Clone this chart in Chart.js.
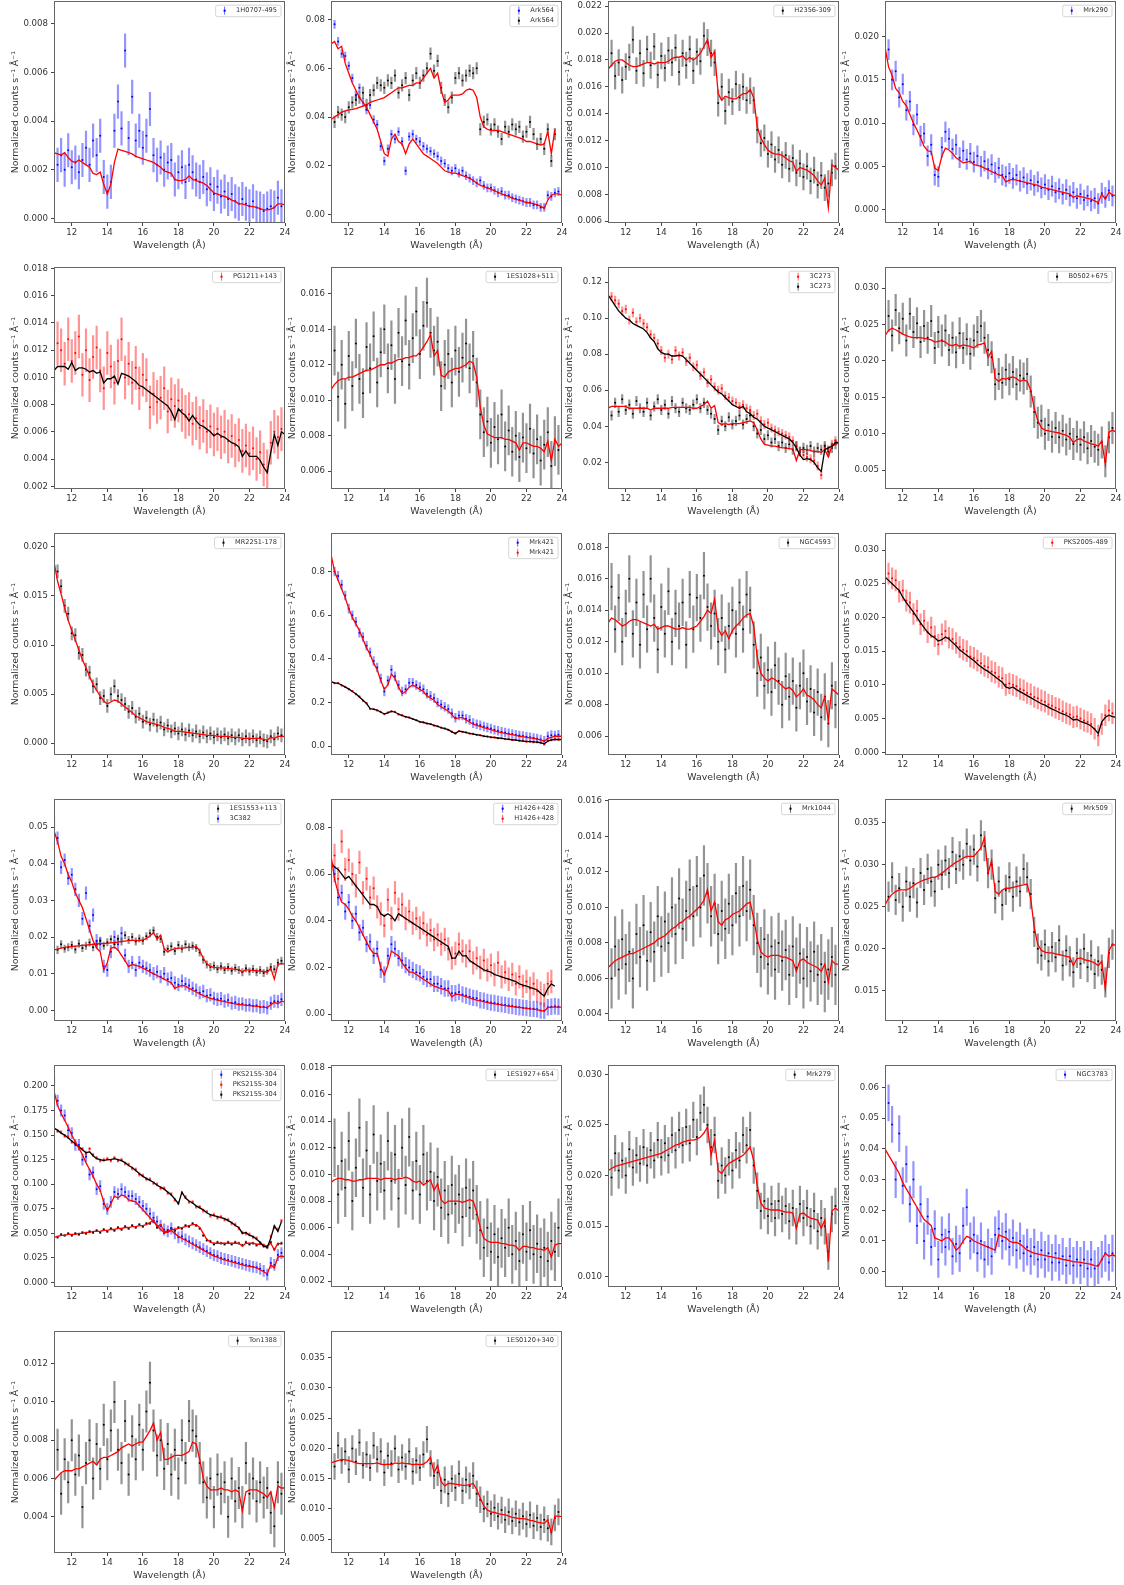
<!DOCTYPE html>
<html>
<head>
<meta charset="utf-8">
<script src="https://cdn.jsdelivr.net/npm/chart.js@4.4.1/dist/chart.umd.min.js"></script>
<style>
  html, body { margin: 0; padding: 0; background: #fff; overflow: hidden; }
  #wrap { position: relative; width: 1124px; height: 1585px; overflow: hidden; }
  #wrap canvas { position: absolute; }
</style>
</head>
<body>
<div id="wrap"></div>
<script>
// wavelength grid (Angstrom)
const wave = [11,11.2,11.4,11.6,11.8,12,12.2,12.4,12.6,12.8,13,13.2,13.4,13.6,13.8,14,14.2,14.4,14.6,14.8,15,15.2,15.4,15.6,15.8,16,16.2,16.4,16.6,16.8,17,17.2,17.4,17.6,17.8,18,18.2,18.4,18.6,18.8,19,19.2,19.4,19.6,19.8,20,20.2,20.4,20.6,20.8,21,21.2,21.4,21.6,21.8,22,22.2,22.4,22.6,22.8,23,23.2,23.4,23.6,23.8,24];
const xTicks = [12, 14, 16, 18, 20, 22, 24];

// 1H0707-495
const d_1H0707 = [.0037,.0022,.0026,.0020,.0028,.0021,.0023,.0019,.0024,.0029,
  .0022,.0032,.0026,.0034,.0017,.0011,.0015,.0036,.0048,.0037,
  .0069,.0033,.0050,.0032,.0036,.0029,.0034,.0045,.0026,.0022,
  .0025,.0020,.0023,.0024,.0016,.0019,.0021,.0015,.0022,.0019,
  .0016,.0015,.0017,.0012,.0014,.0010,.0013,.0009,.0011,.0008,
  .0010,.0007,.0006,.0008,.0006,.0005,.0007,.00045,.0004,.0003,
  .0004,.0005,.00045,.00085,.0005,null];
const m_1H0707 = [.0027,.00265,.0026,.0027,.0025,.00235,.0023,.0024,.0023,.0022,
  .0021,.00185,.0018,.0019,.0014,.0010,.0014,.0023,.00285,.0028,
  .00275,.0027,.00265,.00255,.0025,.00245,.0024,.00235,.0023,.0022,
  .0021,.00195,.0019,.00185,.0016,.00155,.00155,.0016,.00175,.0016,
  .00155,.0015,.00145,.00135,.0012,.00105,.0010,.00095,.0009,.00085,
  .00075,.0007,.0006,.0006,.00055,.0005,.00048,.00045,.0004,.00035,
  .00035,.00038,.00045,.0006,.0006,.00055];

// Ark564 (two observations)
const d_Ark564a = [.074,.078,.071,.066,.065,.061,.056,.049,.052,.046,
  .043,.045,.039,.037,.028,.022,.027,.033,.031,.034,
  .030,.018,.032,.033,.031,.030,.028,.027,.026,.025,
  .024,.022,.021,.019,.018,.019,.017,.018,.016,.015,
  .014,.013,.014,.012,.011,.011,.010,.009,.0095,.008,
  .008,.007,.0065,.006,.0055,.005,.005,.004,.004,.003,
  .003,.008,.0075,.009,.0095,.009];
const m_Ark564a = [.070,.071,.068,.069,.062,.058,.054,.051,.048,.046,
  .044,.041,.038,.035,.030,.025,.024,.031,.033,.030,
  .029,.025,.029,.031,.029,.027,.025,.024,.023,.022,
  .021,.0195,.018,.0175,.017,.017,.0165,.016,.0155,.015,
  .014,.013,.012,.0115,.011,.0105,.0098,.0092,.0085,.008,
  .0075,.0068,.0063,.006,.0055,.005,.0048,.0045,.004,.0035,
  .0025,.006,.008,.0085,.0085,.008];
const d_Ark564b = [.040,.038,.042,.041,.040,.044,.046,.047,.048,.050,
  .045,.049,.051,.054,.053,.052,.055,.054,.057,.050,
  .053,.056,.049,.055,.058,.054,.057,.060,.066,.059,
  .063,.052,.047,.044,.048,.056,.058,.055,.057,.059,
  .058,.060,.035,.038,.039,.035,.037,.034,.031,.036,
  .034,.037,.035,.036,.032,.034,.038,.033,.029,.031,
  .027,.035,.022,.033,null,null];
const m_Ark564b = [.039,.040,.041,.042,.0425,.043,.0432,.0435,.044,.0445,
  .045,.046,.0465,.047,.0475,.048,.049,.050,.051,.052,
  .052,.0525,.053,.053,.054,.054,.056,.058,.060,.056,
  .058,.051,.046,.047,.049,.049,.049,.0495,.051,.0515,
  .051,.048,.040,.036,.035,.0345,.0345,.0345,.034,.0335,
  .033,.0325,.032,.0315,.031,.030,.030,.0295,.029,.0285,
  .029,.034,.025,.035,null,null];

// H2356-309
const d_H2356 = [.0170,.0185,.0168,.0178,.0165,.0175,.0182,.0195,.0172,.0185,
  .0170,.0188,.0176,.0190,.0169,.0183,.0174,.0187,.0178,.0189,
  .0171,.0185,.0176,.0188,.0172,.0186,.0179,.0198,.0193,.0185,
  .0178,.0148,.0160,.0142,.0156,.0149,.0162,.0152,.0160,.0150,
  .0157,.0150,.0128,.0118,.0122,.0110,.0117,.0106,.0113,.0102,
  .0109,.0099,.0107,.0096,.0103,.0093,.0101,.0090,.0098,.0087,
  .0094,.0085,.0088,.0096,.0101,null];
const m_H2356 = [.0173,.0176,.0179,.0180,.0180,.0178,.0176,.0175,.0175,.0176,
  .0177,.0178,.0178,.0177,.0178,.0178,.0178,.0179,.0181,.0182,
  .0182,.0183,.0180,.0182,.0180,.0182,.0185,.0190,.0195,.0182,
  .0186,.0155,.0150,.0153,.0152,.0151,.0151,.0153,.0155,.0155,
  .0158,.0152,.0130,.0122,.0117,.0113,.0111,.0110,.0110,.0109,
  .0107,.0105,.0104,.0097,.0100,.0099,.0098,.0096,.0094,.0090,
  .0087,.0092,.0070,.0102,.0100,.0098];

// Mrk290
const d_Mrk290 = [.0205,.0185,.0150,.0160,.0130,.0145,.0115,.0125,.0098,.0110,
  .0085,.0088,.0062,.0075,.0040,.0038,.0072,.0090,.0082,.0070,
  .0075,.0060,.0068,.0058,.0065,.0055,.0062,.0050,.0056,.0047,
  .0052,.0043,.0048,.0040,.0038,.0042,.0036,.0040,.0033,.0037,
  .0030,.0034,.0028,.0032,.0025,.0029,.0023,.0027,.0020,.0024,
  .0018,.0023,.0016,.0020,.0013,.0018,.0011,.0016,.0010,.0013,
  .0007,.0019,.0014,.0022,.0016,.0019];
const m_Mrk290 = [.0188,.0165,.0155,.0140,.0135,.0125,.0120,.0110,.0100,.0092,
  .0083,.0073,.0068,.0067,.0048,.0045,.0062,.0071,.0069,.0065,
  .0060,.0057,.0054,.0055,.0056,.0052,.0051,.0050,.0048,.0046,
  .0044,.0042,.0040,.0039,.0032,.0034,.0035,.0034,.0033,.0032,
  .0031,.0030,.0029,.0028,.0026,.0025,.0024,.0023,.0022,.0021,
  .0020,.0019,.0018,.0014,.0016,.0015,.0014,.0013,.0012,.0010,
  .0008,.0018,.0012,.0020,.0017,.0016];

// PG1211+143
const d_PG1211 = [.0105,.0125,.0120,.0110,.0128,.0112,.0118,.0130,.0102,.0120,
  .0098,.0115,.0122,.0105,.0092,.0118,.0108,.0096,.0112,.0128,
  .0100,.0110,.0096,.0107,.0092,.0102,.0098,.0078,.0088,.0082,
  .0085,.0092,.0075,.0084,.0079,.0083,.0076,.0071,.0073,.0066,
  .0070,.0063,.0068,.0060,.0064,.0058,.0062,.0056,.0060,.0053,
  .0057,.0050,.0054,.0046,.0050,.0044,.0048,.0040,.0045,.0036,
  .0031,.0052,.0060,.0056,.0062,.0059];
const m_PG1211 = [.0105,.0108,.0108,.0108,.0106,.0111,.0105,.0107,.0107,.0106,
  .0104,.0105,.0103,.0104,.0096,.0099,.0099,.0101,.0095,.0103,
  .0102,.0101,.0099,.0097,.0094,.0093,.0091,.0089,.0087,.0085,
  .0083,.0081,.0079,.0075,.0069,.0077,.0074,.0072,.0068,.0072,
  .0068,.0065,.0064,.0062,.0060,.0057,.0059,.0057,.0056,.0054,
  .0052,.0051,.0049,.0042,.0046,.0042,.0042,.0042,.0039,.0034,
  .0030,.0045,.0058,.0050,.0060,.0058];

// 1ES1028+511
const d_1ES1028 = [.0110,.0128,.0102,.0120,.0098,.0125,.0108,.0132,.0112,.0104,
  .0130,.0118,.0136,.0110,.0127,.0140,.0118,.0131,.0112,.0138,
  .0122,.0145,.0120,.0135,.0150,.0126,.0142,.0155,.0138,.0128,
  .0133,.0108,.0120,.0126,.0110,.0128,.0116,.0124,.0132,.0118,
  .0125,.0110,.0092,.0082,.0088,.0076,.0085,.0078,.0092,.0074,
  .0083,.0071,.0080,.0068,.0079,.0073,.0084,.0070,.0078,.0066,
  .0075,.0082,.0063,.0077,.0072,null];
const m_1ES1028 = [.0106,.0109,.0111,.0112,.0112,.0113,.0113,.0114,.0115,.0116,
  .0117,.0117,.0118,.0119,.0120,.0120,.0121,.0121,.0122,.0123,
  .0123,.0124,.0124,.0125,.0125,.0127,.0130,.0133,.0137,.0125,
  .0128,.0114,.0113,.0116,.0117,.0118,.0118,.0119,.0120,.0122,
  .0121,.0113,.0096,.0086,.0081,.0080,.0079,.0079,.0079,.0078,
  .0078,.0077,.0076,.0072,.0076,.0076,.0075,.0074,.0074,.0073,
  .0071,.0077,.0066,.0078,.0074,.0076];

// 3C273 (two observations)
const d_3C273a = [.118,.112,.110,.108,.104,.105,.099,.103,.098,.100,
  .097,.095,.091,.089,.086,.082,.078,.080,.077,.082,
  .079,.081,.076,.078,.073,.074,.068,.070,.064,.066,
  .062,.060,.061,.057,.056,.054,.053,.051,.052,.050,
  .049,.046,.047,.043,.041,.042,.039,.038,.037,.036,
  .035,.034,.032,.029,.026,.024,.023,.022,.021,.018,
  .013,.028,.027,.030,.032,.032];
const m_3C273a = [.113,.110,.107,.104,.102,.100,.099,.097,.096,.095,
  .094,.092,.089,.087,.083,.081,.080,.080,.079,.079,
  .0795,.079,.077,.075,.073,.071,.069,.067,.065,.063,
  .061,.059,.058,.056,.054,.052,.051,.050,.051,.048,
  .047,.045,.044,.042,.040,.039,.038,.037,.036,.035,
  .034,.033,.031,.028,.024,.0215,.022,.0215,.020,.017,
  .015,.027,.028,.029,.031,.031];
const d_3C273b = [.050,.046,.053,.048,.055,.049,.052,.047,.054,.050,
  .048,.053,.046,.051,.055,.049,.052,.047,.054,.050,
  .048,.053,.050,.049,.052,.055,.050,.053,.049,.047,
  .044,.038,.043,.040,.045,.041,.043,.046,.041,.044,
  .046,.040,.036,.038,.033,.035,.031,.033,.029,.031,
  .028,.030,.027,.029,.026,.028,.027,.029,.026,.028,
  .027,.029,.026,.028,.030,null];
const m_3C273b = [.050,.051,.051,.051,.051,.051,.050,.050,.050,.050,
  .050,.050,.049,.050,.050,.050,.050,.050,.0505,.0505,
  .0505,.0505,.0505,.0505,.050,.050,.051,.052,.054,.050,
  .0515,.042,.041,.0415,.041,.0415,.0415,.0415,.042,.0425,
  .043,.042,.038,.033,.030,.0295,.029,.029,.0285,.028,
  .028,.0275,.0275,.021,.027,.027,.027,.0265,.026,.026,
  .0255,.027,.023,.029,.030,.031];

// B0502+675
const d_B0502 = [.0250,.0262,.0235,.0270,.0245,.0258,.0228,.0265,.0240,.0252,
  .0226,.0248,.0232,.0255,.0218,.0240,.0228,.0242,.0215,.0232,
  .0212,.0238,.0218,.0230,.0210,.0228,.0240,.0248,.0232,.0215,
  .0205,.0168,.0182,.0170,.0188,.0175,.0185,.0168,.0180,.0176,
  .0182,.0158,.0130,.0115,.0118,.0100,.0112,.0096,.0108,.0095,
  .0104,.0092,.0100,.0086,.0096,.0085,.0095,.0080,.0090,.0082,
  .0078,.0088,.0062,.0095,.0108,null];
const m_B0502 = [.0235,.0242,.0245,.0243,.0240,.0237,.0235,.0233,.0232,.0232,
  .0232,.0231,.0230,.0229,.0226,.0227,.0228,.0226,.0222,.0221,
  .0223,.0220,.0222,.0221,.0220,.0218,.0222,.0223,.0225,.0205,
  .0213,.0176,.0172,.0176,.0175,.0177,.0178,.0176,.0172,.0174,
  .0172,.0160,.0135,.0118,.0108,.0105,.0104,.0103,.0102,.0101,
  .0099,.0098,.0095,.0088,.0092,.0093,.0090,.0088,.0086,.0085,
  .0083,.0090,.0058,.0102,.0105,.0102];

// MR2251-178
const d_MR2251 = [.0195,.0175,.0160,.0140,.0132,.0112,.0110,.0092,.0090,.0075,
  .0072,.0058,.0060,.0046,.0048,.0038,.0050,.0058,.0048,.0044,
  .0040,.0032,.0036,.0027,.0030,.0022,.0026,.0019,.0024,.0018,
  .0021,.0014,.0018,.0012,.0015,.0010,.0014,.0009,.0013,.0008,
  .0012,.0007,.0011,.0007,.0010,.0006,.0009,.0006,.0009,.0005,
  .0008,.0005,.0008,.0004,.0007,.0004,.0007,.0003,.0006,.0003,
  .0002,.0007,.0004,.0010,.0008,.0011];
const m_MR2251 = [.0185,.0165,.0152,.0138,.0125,.0115,.0105,.0095,.0085,.0077,
  .0068,.0060,.0054,.0048,.0043,.0040,.0042,.0044,.0043,.0040,
  .0037,.0034,.0031,.0028,.0026,.0024,.0022,.0021,.0020,.0019,
  .0018,.0016,.0015,.0014,.0012,.0012,.0012,.0011,.0011,.0010,
  .0010,.0009,.0009,.0008,.0008,.0008,.0007,.0007,.0007,.0007,
  .0006,.0006,.0006,.0005,.0005,.0005,.0005,.0005,.0005,.0004,
  .0003,.0006,.0005,.0007,.0007,.0007];

// Mrk421 (two observations)
const d_Mrk421a = [.90,.80,.78,.74,.69,.63,.60,.57,.52,.50,
  .46,.43,.39,.36,.31,.25,.30,.35,.32,.28,
  .25,.26,.29,.29,.28,.27,.26,.24,.23,.22,
  .20,.19,.18,.17,.15,.13,.14,.14,.125,.12,
  .105,.10,.095,.09,.085,.08,.075,.07,.065,.062,
  .058,.055,.052,.048,.046,.043,.04,.037,.034,.03,
  .024,.045,.05,.048,.052,.05];
const m_Mrk421a = [.88,.80,.76,.72,.68,.63,.59,.56,.53,.49,
  .45,.42,.38,.35,.30,.26,.28,.33,.31,.27,
  .24,.25,.27,.28,.27,.26,.25,.23,.22,.21,
  .19,.18,.17,.16,.145,.125,.13,.13,.12,.11,
  .10,.095,.09,.085,.08,.075,.07,.065,.062,.058,
  .055,.052,.049,.045,.043,.04,.038,.035,.032,.028,
  .022,.035,.04,.045,.045,.045];
const d_Mrk421b = [.297,.288,.289,.278,.272,.260,.252,.238,.227,.208,
  .197,.170,.170,.163,.157,.146,.154,.158,.157,.145,
  .142,.133,.131,.124,.119,.110,.109,.103,.101,.094,
  .091,.084,.081,.074,.066,.057,.069,.065,.063,.057,
  .056,.051,.050,.045,.044,.040,.040,.036,.036,.032,
  .032,.028,.028,.024,.024,.020,.021,.018,.019,.015,
  .009,.024,.027,.031,.029,.031];
const m_Mrk421b = [.295,.29,.287,.28,.27,.262,.25,.24,.225,.21,
  .195,.172,.168,.165,.155,.148,.152,.16,.155,.147,
  .14,.135,.13,.125,.118,.112,.108,.104,.1,.095,
  .09,.085,.08,.075,.065,.058,.068,.066,.062,.058,
  .055,.052,.049,.046,.043,.041,.039,.037,.035,.033,
  .031,.029,.027,.025,.023,.021,.02,.019,.018,.016,
  .01,.022,.028,.03,.03,.03];

// NGC4593
const d_NGC4593 = [.0140,.0155,.0128,.0148,.0120,.0138,.0160,.0125,.0145,.0118,
  .0150,.0128,.0160,.0135,.0115,.0142,.0125,.0152,.0120,.0138,
  .0130,.0145,.0118,.0150,.0128,.0148,.0135,.0162,.0142,.0130,
  .0138,.0120,.0135,.0115,.0130,.0140,.0125,.0145,.0128,.0150,
  .0140,.0118,.0100,.0110,.0092,.0102,.0088,.0105,.0095,.0080,
  .0098,.0085,.0095,.0078,.0092,.0100,.0082,.0090,.0075,.0088,
  .0072,.0085,.0068,.0092,.0080,null];
const m_NGC4593 = [.0132,.0135,.0134,.0132,.0130,.0131,.0133,.0134,.0134,.0133,
  .0132,.0131,.0130,.0131,.0128,.0129,.0130,.0130,.0129,.0128,
  .0128,.0129,.0128,.0128,.0129,.0130,.0133,.0136,.0140,.0138,
  .0147,.0128,.0124,.0127,.0122,.0127,.0130,.0132,.0135,.0137,
  .0138,.0130,.0110,.0100,.0097,.0095,.0097,.0096,.0094,.0092,
  .0090,.0091,.0089,.0085,.0087,.0090,.0086,.0085,.0083,.0080,
  .0078,.0085,.0070,.0090,.0088,.0086];

// PKS2005-489
const d_PKS2005 = [.0280,.0265,.0258,.0255,.0238,.0240,.0225,.0222,.0205,.0210,
  .0190,.0195,.0178,.0185,.0172,.0160,.0175,.0180,.0170,.0168,
  .0162,.0156,.0152,.0150,.0142,.0140,.0136,.0132,.0128,.0126,
  .0120,.0118,.0112,.0110,.0100,.0102,.0100,.0098,.0094,.0092,
  .0088,.0086,.0082,.0080,.0077,.0075,.0071,.0069,.0066,.0064,
  .0061,.0058,.0056,.0052,.0053,.0050,.0047,.0045,.0042,.0035,
  .0025,.0042,.0055,.0062,.0058,.0056];
const m_PKS2005 = [.0260,.0255,.0250,.0245,.0240,.0230,.0222,.0215,.0208,.0200,
  .0192,.0185,.0178,.0173,.0170,.0165,.0167,.0171,.0168,.0163,
  .0158,.0152,.0148,.0144,.0140,.0136,.0131,.0127,.0123,.0120,
  .0116,.0112,.0108,.0104,.0097,.0095,.0097,.0093,.0090,.0087,
  .0084,.0081,.0078,.0075,.0072,.0070,.0067,.0064,.0062,.0059,
  .0057,.0055,.0052,.0048,.0049,.0046,.0044,.0042,.0039,.0034,
  .0028,.0045,.0052,.0055,.0053,.0052];

// 1ES1553+113 and 3C382
const d_1ES1553 = [.0175,.0165,.0180,.0168,.0172,.0178,.0166,.0182,.0170,.0176,
  .0185,.0172,.0180,.0190,.0176,.0186,.0194,.0180,.0195,.0188,
  .0205,.0192,.0200,.0188,.0196,.0190,.0202,.0210,.0218,.0200,
  .0195,.0160,.0168,.0175,.0162,.0178,.0168,.0180,.0172,.0176,
  .0170,.0158,.0138,.0125,.0118,.0122,.0112,.0120,.0110,.0118,
  .0108,.0116,.0110,.0104,.0115,.0106,.0113,.0104,.0110,.0102,
  .0108,.0118,.0112,.0130,.0135,.0125];
const m_1ES1553 = [.0165,.0167,.0170,.0172,.0173,.0174,.0175,.0176,.0177,.0178,
  .0179,.0180,.0181,.0182,.0182,.0183,.0184,.0185,.0186,.0188,
  .0189,.0190,.0191,.0191,.0190,.0192,.0196,.0203,.0212,.0195,
  .0205,.0168,.0160,.0165,.0168,.0170,.0170,.0171,.0172,.0172,
  .0174,.0162,.0142,.0127,.0120,.0117,.0116,.0116,.0115,.0114,
  .0113,.0112,.0111,.0105,.0111,.0110,.0109,.0108,.0107,.0106,
  .0104,.0115,.0085,.0125,.0128,.0126];
const d_3C382 = [.051,.047,.039,.041,.036,.037,.033,.030,.025,.032,
  .023,.026,.019,.018,.012,.011,.016,.020,.018,.021,
  .015,.012,.013,.011,.013,.012,.0115,.011,.010,.0105,
  .0092,.010,.0085,.0088,.0075,.007,.008,.0072,.0068,.006,
  .0055,.0048,.0052,.004,.0042,.0033,.003,.0032,.0025,.0028,
  .002,.0022,.0017,.0018,.0014,.0015,.0012,.0013,.0009,.001,
  .0007,.002,.0025,.0024,.003,.0027];
const m_3C382 = [.049,.046,.042,.040,.037,.035,.032,.030,.028,.025,
  .022,.019,.017,.016,.011,.013,.017,.0172,.0165,.015,
  .0135,.012,.0125,.0123,.012,.0115,.011,.0105,.010,.0095,
  .009,.0085,.008,.0075,.006,.0065,.0068,.0066,.006,.0055,
  .005,.0045,.004,.0037,.0033,.003,.0028,.0026,.0024,.0022,
  .002,.0018,.0016,.0015,.0014,.0013,.0012,.0011,.001,.0008,
  .0008,.0015,.0022,.0018,.0025,.0023];

// H1426+428 (two observations)
const d_H1426a = [.072,.060,.050,.052,.044,.048,.040,.043,.035,.037,
  .030,.031,.025,.028,.019,.017,.025,.030,.028,.024,
  .023,.021,.020,.019,.018,.0175,.016,.015,.015,.013,
  .013,.012,.011,.011,.009,.009,.0095,.0085,.008,.0075,
  .007,.0068,.006,.0058,.0053,.005,.0048,.0045,.0042,.004,
  .0037,.0035,.0032,.003,.0028,.0026,.0024,.0023,.0021,.0016,
  .0015,.003,.0032,.0034,.0032,.0033];
const m_H1426a = [.068,.058,.052,.048,.047,.045,.042,.040,.037,.034,
  .031,.028,.026,.026,.020,.017,.021,.027,.026,.025,
  .022,.020,.018,.018,.017,.016,.015,.014,.013,.012,
  .0115,.011,.0105,.010,.0075,.0085,.0085,.008,.0075,.007,
  .0065,.006,.0057,.0054,.005,.0047,.0044,.0042,.004,.0037,
  .0035,.0033,.0031,.0029,.0027,.0025,.0023,.0022,.002,.0015,
  .0014,.0028,.003,.003,.003,.003];
const d_H1426b = [.060,.068,.058,.074,.062,.066,.060,.055,.065,.052,
  .058,.050,.054,.046,.043,.038,.049,.041,.052,.045,
  .047,.041,.044,.039,.041,.037,.039,.034,.036,.032,
  .034,.030,.032,.028,.024,.026,.030,.027,.025,.027,
  .022,.024,.020,.023,.019,.021,.017,.022,.016,.018,
  .015,.017,.013,.016,.012,.014,.011,.013,.010,.009,
  .008,.013,.014,null,null,null];
const m_H1426b = [.065,.063,.062,.060,.058,.059,.057,.055,.053,.051,
  .049,.047,.047,.046,.043,.042,.043,.042,.040,.043,
  .042,.041,.040,.039,.038,.037,.036,.035,.034,.033,
  .032,.031,.030,.029,.024,.024,.027,.025,.025,.023,
  .022,.021,.020,.019,.0185,.018,.017,.0165,.016,.0155,
  .015,.0145,.014,.013,.0125,.012,.0115,.011,.0105,.009,
  .0078,.011,.013,.012,null,null];

// Mrk1044
const d_Mrk1044 = [.0070,.0060,.0078,.0065,.0082,.0068,.0075,.0060,.0085,.0072,
  .0090,.0070,.0086,.0075,.0095,.0078,.0092,.0080,.0100,.0085,
  .0105,.0088,.0098,.0110,.0095,.0112,.0100,.0118,.0108,.0095,
  .0102,.0085,.0098,.0088,.0102,.0090,.0108,.0095,.0112,.0098,
  .0110,.0090,.0080,.0072,.0082,.0068,.0078,.0065,.0080,.0070,
  .0076,.0062,.0078,.0066,.0074,.0060,.0072,.0064,.0075,.0062,
  .0068,.0058,.0065,.0072,.0062,null];
const m_Mrk1044 = [.0066,.0068,.0070,.0071,.0072,.0073,.0074,.0074,.0075,.0076,
  .0077,.0078,.0079,.0080,.0082,.0083,.0084,.0086,.0088,.0089,
  .0091,.0092,.0094,.0095,.0097,.0099,.0101,.0104,.0110,.0098,
  .0103,.0092,.0090,.0093,.0094,.0096,.0097,.0098,.0100,.0102,
  .0103,.0094,.0082,.0075,.0073,.0072,.0073,.0073,.0073,.0072,
  .0072,.0071,.0070,.0064,.0070,.0071,.0069,.0068,.0067,.0066,
  .0064,.0068,.0058,.0070,.0068,.0068];

// Mrk509
const d_Mrk509 = [.0275,.0262,.0285,.0258,.0272,.0250,.0280,.0262,.0278,.0255,
  .0290,.0270,.0295,.0280,.0268,.0300,.0288,.0305,.0290,.0315,
  .0295,.0310,.0300,.0325,.0305,.0318,.0298,.0335,.0322,.0290,
  .0300,.0260,.0280,.0252,.0270,.0285,.0262,.0280,.0268,.0295,
  .0285,.0265,.0220,.0200,.0192,.0205,.0185,.0202,.0190,.0210,
  .0180,.0198,.0185,.0172,.0195,.0182,.0200,.0178,.0192,.0170,
  .0185,.0175,.0160,.0195,.0205,null];
const m_Mrk509 = [.0252,.0260,.0265,.0268,.0270,.0270,.0270,.0272,.0275,.0278,
  .0280,.0282,.0283,.0285,.0285,.0287,.0290,.0293,.0297,.0300,
  .0303,.0305,.0308,.0310,.0310,.0310,.0315,.0320,.0332,.0290,
  .0305,.0268,.0265,.0270,.0272,.0272,.0273,.0274,.0275,.0276,
  .0277,.0260,.0225,.0205,.0198,.0196,.0195,.0195,.0194,.0193,
  .0192,.0191,.0190,.0180,.0188,.0189,.0187,.0186,.0185,.0183,
  .0180,.0185,.0152,.0198,.0205,.0204];

// PKS2155-304 (three observations)
const d_PKS2155a = [.205,.185,.175,.170,.155,.152,.140,.140,.125,.128,
  .110,.112,.095,.098,.080,.075,.082,.092,.090,.095,
  .092,.088,.088,.085,.082,.078,.075,.070,.066,.062,
  .058,.054,.052,.055,.050,.046,.047,.044,.042,.040,
  .038,.036,.034,.032,.030,.028,.027,.025,.024,.023,
  .022,.021,.020,.019,.018,.017,.016,.0155,.014,.012,
  .008,.020,.018,.028,.030,.028];
const m_PKS2155a = [.195,.180,.172,.165,.158,.150,.143,.137,.130,.122,
  .115,.108,.100,.094,.082,.073,.080,.088,.086,.089,
  .088,.084,.083,.082,.078,.074,.070,.066,.062,.058,
  .054,.051,.051,.053,.050,.047,.045,.043,.041,.039,
  .037,.035,.033,.031,.029,.027,.026,.024,.023,.022,
  .021,.020,.019,.018,.017,.0165,.016,.015,.013,.011,
  .009,.018,.015,.026,.027,.026];
const d_PKS2155b = [.158,.154,.153,.149,.148,.143,.142,.137,.136,.131,
  .136,.130,.127,.124,.125,.126,.124,.127,.124,.125,
  .121,.120,.116,.115,.110,.109,.105,.105,.101,.100,
  .096,.096,.091,.090,.084,.081,.091,.087,.082,.082,
  .077,.077,.073,.072,.068,.069,.066,.067,.064,.064,
  .060,.059,.055,.051,.050,.049,.046,.045,.040,.038,
  .036,.047,.056,.054,.063,null];
const m_PKS2155b = [.157,.155,.152,.150,.147,.144,.141,.138,.135,.132,
  .133,.129,.126,.125,.124,.125,.125,.126,.125,.124,
  .122,.119,.117,.114,.111,.108,.106,.104,.102,.099,
  .097,.095,.092,.089,.085,.080,.092,.086,.083,.081,
  .078,.076,.074,.071,.069,.068,.067,.066,.065,.063,
  .061,.058,.056,.050,.051,.048,.047,.044,.041,.037,
  .036,.045,.058,.052,.062,null];
const d_PKS2155c = [.047,.046,.049,.048,.050,.048,.050,.049,.051,.050,
  .052,.051,.053,.051,.054,.052,.055,.053,.056,.054,
  .057,.055,.058,.056,.059,.057,.060,.060,.062,.056,
  .058,.051,.053,.055,.053,.056,.055,.058,.057,.060,
  .058,.055,.048,.043,.042,.039,.041,.040,.039,.041,
  .039,.041,.040,.038,.041,.039,.040,.038,.040,.037,
  .036,.041,.034,.039,.040,null];
const m_PKS2155c = [.046,.047,.048,.048,.049,.049,.049,.050,.050,.051,
  .051,.052,.052,.052,.053,.053,.054,.054,.055,.055,
  .056,.056,.057,.057,.058,.058,.059,.061,.064,.057,
  .059,.052,.052,.054,.054,.055,.056,.057,.058,.059,
  .059,.056,.050,.044,.041,.040,.040,.040,.040,.040,
  .040,.040,.040,.037,.040,.040,.040,.039,.039,.038,
  .037,.040,.033,.040,.039,null];

// 1ES1927+654
const d_1ES1927 = [.0095,.0120,.0085,.0110,.0090,.0125,.0080,.0105,.0135,.0090,
  .0118,.0085,.0130,.0095,.0108,.0088,.0125,.0095,.0115,.0082,
  .0120,.0092,.0128,.0088,.0110,.0085,.0115,.0095,.0102,.0080,
  .0098,.0075,.0088,.0070,.0092,.0078,.0085,.0068,.0090,.0075,
  .0088,.0070,.0058,.0045,.0060,.0042,.0055,.0038,.0052,.0045,
  .0060,.0040,.0050,.0035,.0055,.0042,.0058,.0040,.0048,.0038,
  .0045,.0035,.0050,.0042,.0060,null];
const m_1ES1927 = [.0094,.0096,.0097,.0097,.0096,.0096,.0095,.0095,.0096,.0096,
  .0097,.0097,.0097,.0097,.0096,.0097,.0097,.0097,.0096,.0097,
  .0097,.0098,.0097,.0095,.0094,.0095,.0092,.0094,.0096,.0088,
  .0093,.0081,.0078,.0080,.0080,.0080,.0080,.0079,.0080,.0081,
  .0080,.0072,.0060,.0052,.0050,.0049,.0049,.0049,.0048,.0048,
  .0047,.0047,.0046,.0043,.0046,.0046,.0045,.0045,.0044,.0044,
  .0043,.0045,.0038,.0047,.0048,.0048];

// Mrk279
const d_Mrk279 = [.0210,.0198,.0222,.0205,.0215,.0200,.0226,.0208,.0220,.0212,
  .0228,.0210,.0225,.0215,.0235,.0218,.0232,.0220,.0240,.0225,
  .0245,.0230,.0248,.0232,.0255,.0238,.0262,.0270,.0250,.0228,
  .0240,.0195,.0210,.0200,.0218,.0205,.0225,.0215,.0240,.0230,
  .0245,.0210,.0185,.0165,.0175,.0160,.0172,.0158,.0175,.0162,
  .0170,.0155,.0168,.0150,.0172,.0158,.0168,.0150,.0165,.0145,
  .0158,.0150,.0125,.0162,.0170,null];
const m_Mrk279 = [.0205,.0207,.0209,.0210,.0211,.0212,.0213,.0214,.0215,.0216,
  .0217,.0218,.0219,.0220,.0221,.0222,.0224,.0226,.0228,.0230,
  .0231,.0233,.0234,.0235,.0235,.0236,.0238,.0242,.0248,.0220,
  .0235,.0205,.0202,.0208,.0212,.0214,.0216,.0218,.0220,.0224,
  .0228,.0215,.0190,.0173,.0168,.0167,.0166,.0166,.0166,.0165,
  .0164,.0164,.0163,.0148,.0162,.0163,.0160,.0158,.0157,.0156,
  .0148,.0156,.0115,.0165,.0168,.0165];

// NGC3783
const d_NGC3783 = [.025,.055,.048,.030,.045,.028,.035,.022,.030,.015,
  .022,.010,.018,.008,.014,.004,.012,.008,.013,.005,
  .009,.006,.015,.021,.010,.012,.006,.010,.004,.008,
  .005,.012,.014,.010,.013,.008,.011,.007,.010,.006,
  .008,.005,.008,.004,.007,.004,.006,.003,.006,.003,
  .005,.002,.005,.002,.004,.002,.004,.001,.004,.001,
  .002,.004,.006,.003,.006,.004];
const m_NGC3783 = [.040,.038,.036,.034,.032,.029,.027,.025,.023,.021,
  .019,.017,.016,.015,.011,.0105,.010,.011,.011,.0095,
  .007,.008,.010,.0115,.011,.010,.0095,.009,.0085,.008,
  .0075,.007,.012,.0115,.011,.010,.0095,.0095,.009,.008,
  .007,.0065,.006,.0058,.0055,.0053,.005,.0048,.0045,.0043,
  .004,.0038,.0036,.0032,.0032,.003,.0028,.0026,.0024,.002,
  .0018,.004,.006,.005,.0055,.005];

// Ton1388
const d_Ton1388 = [.0065,.0075,.0052,.0070,.0058,.0080,.0062,.0072,.0045,.0068,
  .0080,.0060,.0078,.0065,.0088,.0070,.0085,.0100,.0075,.0068,
  .0090,.0062,.0082,.0070,.0088,.0075,.0095,.0110,.0085,.0072,
  .0080,.0065,.0078,.0062,.0075,.0060,.0080,.0068,.0090,.0085,
  .0082,.0068,.0058,.0050,.0060,.0045,.0062,.0052,.0058,.0040,
  .0060,.0048,.0055,.0045,.0068,.0052,.0060,.0048,.0058,.0050,
  .0055,.0042,.0035,.0058,.0052,null];
const m_Ton1388 = [.0059,.0061,.0063,.0064,.0064,.0064,.0065,.0065,.0066,.0067,
  .0068,.0069,.0067,.0070,.0071,.0071,.0072,.0073,.0074,.0076,
  .0077,.0078,.0077,.0078,.0079,.0079,.0082,.0085,.0089,.0080,
  .0084,.0070,.0070,.0071,.0072,.0072,.0072,.0073,.0074,.0079,
  .0078,.0070,.0060,.0056,.0054,.0054,.0054,.0055,.0054,.0054,
  .0053,.0054,.0053,.0043,.0053,.0054,.0054,.0054,.0053,.0052,
  .0050,.0053,.0045,.0056,.0055,.0055];

// 1ES0120+340
const d_1ES0120 = [.0190,.0170,.0205,.0180,.0195,.0165,.0200,.0178,.0210,.0172,
  .0190,.0168,.0205,.0182,.0195,.0160,.0188,.0175,.0200,.0165,
  .0185,.0170,.0195,.0162,.0180,.0168,.0190,.0215,.0175,.0155,
  .0160,.0130,.0148,.0125,.0150,.0135,.0158,.0130,.0148,.0138,
  .0155,.0125,.0115,.0100,.0108,.0092,.0102,.0088,.0098,.0082,
  .0095,.0080,.0092,.0078,.0088,.0075,.0090,.0072,.0085,.0070,
  .0082,.0068,.0062,.0085,.0095,null];
const m_1ES0120 = [.0176,.0178,.0180,.0182,.0181,.0180,.0178,.0176,.0175,.0175,
  .0175,.0175,.0175,.0176,.0174,.0173,.0174,.0173,.0176,.0175,
  .0176,.0175,.0175,.0173,.0174,.0173,.0174,.0178,.0185,.0160,
  .0172,.0145,.0138,.0142,.0142,.0141,.0140,.0139,.0139,.0140,
  .0142,.0132,.0118,.0105,.0098,.0095,.0094,.0092,.0091,.0090,
  .0088,.0086,.0085,.0084,.0084,.0083,.0081,.0080,.0078,.0077,
  .0076,.0082,.0060,.0088,.0088,.0087];

// y-axis tick labels, one list per panel
const yTickLabels = [
  ['0.000','0.002','0.004','0.006','0.008'],
  ['0.00','0.02','0.04','0.06','0.08'],
  ['0.006','0.008','0.010','0.012','0.014','0.016','0.018','0.020','0.022'],
  ['0.000','0.005','0.010','0.015','0.020'],
  ['0.002','0.004','0.006','0.008','0.010','0.012','0.014','0.016','0.018'],
  ['0.006','0.008','0.010','0.012','0.014','0.016'],
  ['0.02','0.04','0.06','0.08','0.10','0.12'],
  ['0.005','0.010','0.015','0.020','0.025','0.030'],
  ['0.000','0.005','0.010','0.015','0.020'],
  ['0.0','0.2','0.4','0.6','0.8'],
  ['0.006','0.008','0.010','0.012','0.014','0.016','0.018'],
  ['0.000','0.005','0.010','0.015','0.020','0.025','0.030'],
  ['0.00','0.01','0.02','0.03','0.04','0.05'],
  ['0.00','0.02','0.04','0.06','0.08'],
  ['0.004','0.006','0.008','0.010','0.012','0.014','0.016'],
  ['0.015','0.020','0.025','0.030','0.035'],
  ['0.000','0.025','0.050','0.075','0.100','0.125','0.150','0.175','0.200'],
  ['0.002','0.004','0.006','0.008','0.010','0.012','0.014','0.016','0.018'],
  ['0.010','0.015','0.020','0.025','0.030'],
  ['0.00','0.01','0.02','0.03','0.04','0.05','0.06'],
  ['0.004','0.006','0.008','0.010','0.012'],
  ['0.005','0.010','0.015','0.020','0.025','0.030','0.035']
];
// y-axis limits per panel
const yLims = [
  [-.00019,.00893],[-.0034,.0875],[.00587,.02237],[-.00155,.0241],
  [.0018,.0181],[.0050,.0175],[.0052,.1283],[.0024,.0329],
  [-.0012,.0214],[-.041,.976],[.0048,.0189],[-.0004,.0325],
  [-.0029,.0576],[-.0029,.0921],[.0036,.0161],[.0114,.0378],
  [-.0045,.2211],[.00155,.0182],[.0090,.0309],[-.005,.0673],
  [.0021,.0137],[.0027,.0394]
];

const RGB = { b: '0,0,255', r: '255,0,0', k: '0,0,0' };
// series per panel: [legend label, data, model, data colour, model colour, error]
const panels = [
  [['1H0707-495', d_1H0707, m_1H0707, 'b', 'r', .0007]],
  [['Ark564', d_Ark564a, m_Ark564a, 'b', 'r', .0018], ['Ark564', d_Ark564b, m_Ark564b, 'k', 'r', .0025]],
  [['H2356-309', d_H2356, m_H2356, 'k', 'r', .0010]],
  [['Mrk290', d_Mrk290, m_Mrk290, 'b', 'r', .0012]],
  [['PG1211+143', d_PG1211, m_PG1211, 'r', 'k', .0016]],
  [['1ES1028+511', d_1ES1028, m_1ES1028, 'k', 'r', .0014]],
  [['3C273', d_3C273a, m_3C273a, 'r', 'k', .0025], ['3C273', d_3C273b, m_3C273b, 'k', 'r', .0028]],
  [['B0502+675', d_B0502, m_B0502, 'k', 'r', .0022]],
  [['MR2251-178', d_MR2251, m_MR2251, 'k', 'r', .0007]],
  [['Mrk421', d_Mrk421a, m_Mrk421a, 'b', 'r', .022], ['Mrk421', d_Mrk421b, m_Mrk421b, 'r', 'k', .005]],
  [['NGC4593', d_NGC4593, m_NGC4593, 'k', 'r', .0015]],
  [['PKS2005-489', d_PKS2005, m_PKS2005, 'r', 'k', .0016]],
  [['1ES1553+113', d_1ES1553, m_1ES1553, 'k', 'r', .0011], ['3C382', d_3C382, m_3C382, 'b', 'r', .0018]],
  [['H1426+428', d_H1426a, m_H1426a, 'b', 'r', .0035], ['H1426+428', d_H1426b, m_H1426b, 'r', 'k', .005]],
  [['Mrk1044', d_Mrk1044, m_Mrk1044, 'k', 'r', .0017]],
  [['Mrk509', d_Mrk509, m_Mrk509, 'k', 'r', .0018]],
  [['PKS2155-304', d_PKS2155a, m_PKS2155a, 'b', 'r', .006], ['PKS2155-304', d_PKS2155b, m_PKS2155b, 'r', 'k', .002], ['PKS2155-304', d_PKS2155c, m_PKS2155c, 'k', 'r', .0015]],
  [['1ES1927+654', d_1ES1927, m_1ES1927, 'k', 'r', .0022]],
  [['Mrk279', d_Mrk279, m_Mrk279, 'k', 'r', .0018]],
  [['NGC3783', d_NGC3783, m_NGC3783, 'b', 'r', .006]],
  [['Ton1388', d_Ton1388, m_Ton1388, 'k', 'r', .0011]],
  [['1ES0120+340', d_1ES0120, m_1ES0120, 'k', 'r', .0022]]
];

// layout of the 4 x 6 grid
const Y_W = 54, AX_W = 231, AX_H = 222, PAD_T = 8, PAD_R = 12, X_H = 40;
const COL_L = [54, 331, 608, 885];
const ROW_T = [1, 267, 533, 799, 1065, 1331];
const FONT = 'DejaVu Sans';

Chart.defaults.font.family = FONT;
Chart.defaults.color = '#333';

const errorBars = {
  id: 'errorBars',
  beforeDatasetsDraw(chart) {
    const { ctx, chartArea: a, scales: { x, y } } = chart;
    ctx.save();
    ctx.beginPath();
    ctx.rect(a.left, a.top, a.right - a.left, a.bottom - a.top);
    ctx.clip();
    chart.data.datasets.forEach(ds => {
      if (!ds.err) return;
      ctx.strokeStyle = `rgba(${ds.rgb},0.42)`;
      ctx.lineWidth = 2.2;
      ctx.beginPath();
      ds.data.forEach(p => {
        if (p.y == null) return;
        const px = x.getPixelForValue(p.x);
        ctx.moveTo(px, y.getPixelForValue(p.y - ds.err));
        ctx.lineTo(px, y.getPixelForValue(p.y + ds.err));
      });
      ctx.stroke();
    });
    ctx.restore();
  }
};

const frameAndLegend = {
  id: 'frameAndLegend',
  afterDraw(chart) {
    const { ctx, chartArea: a } = chart;
    ctx.save();
    ctx.strokeStyle = '#666';
    ctx.lineWidth = 1;
    const l = Math.round(a.left) + 0.5, t = Math.round(a.top) + 0.5;
    const r = Math.round(a.right) - 0.5, b = Math.round(a.bottom) - 0.5;
    ctx.strokeRect(l, t, r - l, b - t);

    const items = chart.data.datasets.filter(d => d.err);
    ctx.font = `6.6px "${FONT}"`;
    const tw = Math.max(...items.map(d => ctx.measureText(d.label).width));
    const w = 20.5 + tw + 4, h = 1.5 + items.length * 10;
    const bx = a.right - 4 - w, by = a.top + 4;
    ctx.fillStyle = 'rgba(255,255,255,0.85)';
    ctx.strokeStyle = '#ccc';
    ctx.lineWidth = 0.8;
    ctx.beginPath();
    ctx.roundRect(bx, by, w, h, 2);
    ctx.fill();
    ctx.stroke();
    items.forEach((d, i) => {
      const cy = by + 5.5 + i * 10;
      ctx.strokeStyle = `rgba(${d.rgb},0.6)`;
      ctx.lineWidth = 1;
      ctx.beginPath();
      ctx.moveTo(bx + 9, cy - 4);
      ctx.lineTo(bx + 9, cy + 4);
      ctx.stroke();
      ctx.fillStyle = `rgb(${d.rgb})`;
      ctx.fillRect(bx + 8, cy - 1, 2, 2);
      ctx.fillStyle = '#333';
      ctx.textBaseline = 'middle';
      ctx.fillText(d.label, bx + 20.5, cy);
    });
    ctx.restore();
  }
};

const wrap = document.getElementById('wrap');

panels.forEach((series, p) => {
  const col = p % 4, row = Math.floor(p / 4);
  const cv = document.createElement('canvas');
  cv.width = Y_W + AX_W + PAD_R;
  cv.height = PAD_T + AX_H + X_H;
  cv.style.left = (COL_L[col] - Y_W) + 'px';
  cv.style.top = (ROW_T[row] - PAD_T) + 'px';
  wrap.appendChild(cv);

  const datasets = [];
  series.forEach(([label, data, model, c, mc, err]) => {
    datasets.push({
      label, err, rgb: RGB[c],
      data: wave.map((x, i) => ({ x, y: data[i] })),
      showLine: false,
      pointRadius: 1,
      pointBorderWidth: 0,
      pointBackgroundColor: `rgb(${RGB[c]})`,
      order: 2
    });
  });
  series.forEach(([label, data, model, c, mc]) => {
    datasets.push({
      data: wave.map((x, i) => ({ x, y: model[i] })),
      borderColor: `rgb(${RGB[mc]})`,
      borderWidth: 1.3,
      pointRadius: 0,
      tension: 0,
      order: 1
    });
  });

  const yLabels = yTickLabels[p];
  new Chart(cv, {
    type: 'line',
    data: { datasets },
    options: {
      responsive: false,
      animation: false,
      events: [],
      layout: { padding: { top: PAD_T, right: PAD_R, left: 0, bottom: 0 } },
      plugins: { legend: { display: false }, tooltip: { enabled: false } },
      scales: {
        x: {
          type: 'linear', min: 11, max: 24,
          afterBuildTicks: s => { s.ticks = xTicks.map(v => ({ value: v })); },
          afterFit: s => { s.height = X_H; },
          ticks: { font: { size: 8.6 }, color: '#333', padding: 1.5, autoSkip: false, maxRotation: 0,
            callback: v => String(v) },
          grid: { drawOnChartArea: false, drawTicks: true, tickLength: 3, color: '#444' },
          border: { display: false },
          title: { display: true, text: 'Wavelength (Å)', font: { size: 9.4 }, color: '#333',
            padding: { top: 0, bottom: 11.6 } }
        },
        y: {
          type: 'linear', min: yLims[p][0], max: yLims[p][1],
          afterBuildTicks: s => { s.ticks = yLabels.map(v => ({ value: Number(v) })); },
          afterFit: s => { s.width = Y_W; },
          ticks: { font: { size: 8.6 }, color: '#333', padding: 3, autoSkip: false,
            callback: (v, i) => yLabels[i] },
          grid: { drawOnChartArea: false, drawTicks: true, tickLength: 3, color: '#444' },
          border: { display: false },
          title: { display: true, text: 'Normalized counts s⁻¹ Å⁻¹', font: { size: 9.4 }, color: '#333',
            padding: { top: 9.6, bottom: 0 } }
        }
      }
    },
    plugins: [errorBars, frameAndLegend]
  });
});
</script>
</body>
</html>
